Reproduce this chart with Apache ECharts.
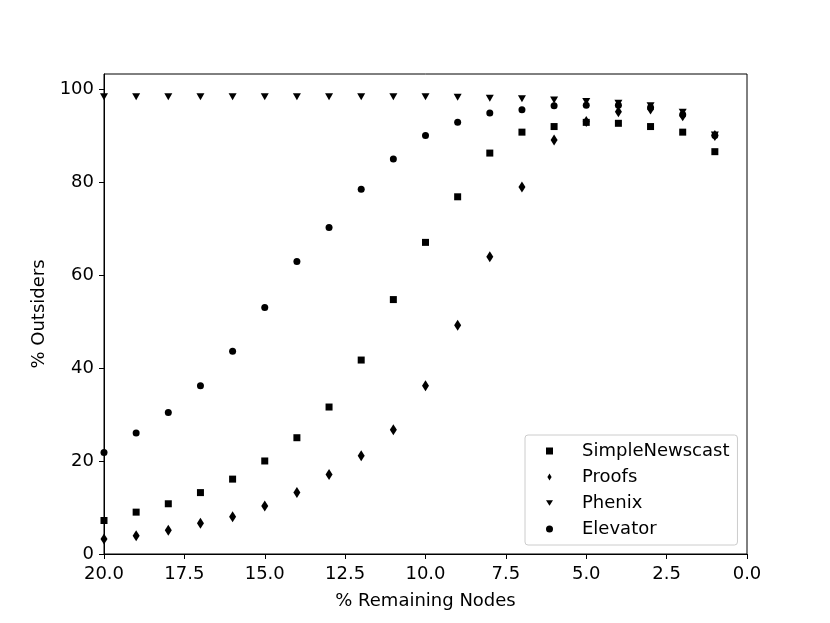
<!DOCTYPE html>
<html>
<head>
<meta charset="utf-8">
<script src="https://cdn.jsdelivr.net/npm/echarts@6/dist/echarts.min.js"></script>
<style>
  html, body { margin: 0; padding: 0; background: #fff; }
  #main { width: 830px; height: 623px; }
</style>
</head>
<body>
<div id="main"></div>
<script>
// % remaining nodes (x)
const remaining = [20, 19, 18, 17, 16, 15, 14, 13, 12, 11, 10, 9, 8, 7, 6, 5, 4, 3, 2, 1];

// % outsiders
const simpleNewscast = [7.2, 9.0, 10.8, 13.2, 16.1, 20.0, 25.0, 31.6, 41.7, 54.7, 67.0, 76.8, 86.2, 90.7, 91.9, 92.8, 92.6, 91.9, 90.7, 86.5];
const proofs = [3.2, 3.9, 5.1, 6.6, 8.0, 10.3, 13.2, 17.1, 21.1, 26.7, 36.2, 49.2, 63.9, 78.9, 89.0, 93.0, 95.1, 95.7, 94.2, 90.0];
const phenix = [98.3, 98.3, 98.3, 98.3, 98.3, 98.3, 98.3, 98.3, 98.3, 98.3, 98.3, 98.2, 98.0, 97.9, 97.6, 97.3, 96.9, 96.4, 95.0, 90.1];
const elevator = [21.8, 26.0, 30.4, 36.2, 43.6, 53.0, 62.9, 70.2, 78.4, 84.9, 90.0, 92.8, 94.8, 95.5, 96.4, 96.5, 96.5, 96.0, 94.5, 90.0];

const yTicks = [0, 20, 40, 60, 80, 100];

const font = 'DejaVu Sans';

function pairs(ys) {
  return remaining.map((x, i) => [x, ys[i]]);
}

const chart = echarts.init(document.getElementById('main'), null, { renderer: 'canvas' });

const diamondPath = 'path://M3,0L6,5L3,10L0,5Z';
const black = { color: '#000', opacity: 1 };

const option = {
  backgroundColor: '#fff',
  animation: false,
  textStyle: { fontFamily: font },
  grid: {
    left: 104, right: 83, top: 74, bottom: 69,
    show: true, borderColor: '#000', borderWidth: 1
  },
  legend: {
    orient: 'vertical',
    left: 525, top: 435,
    padding: [7, 8, 7, 21],
    itemGap: 8,
    itemWidth: 7, itemHeight: 7,
    borderColor: '#cccccc', borderWidth: 1, borderRadius: 3,
    backgroundColor: '#fff',
    textStyle: { fontFamily: font, fontSize: 18, color: '#000', lineHeight: 18, padding: [0, 0, 0, 24] },
    data: [
      { name: 'SimpleNewscast', icon: 'path://M0,0h10v10h-10z' },
      { name: 'Proofs', icon: diamondPath },
      { name: 'Phenix', icon: 'path://M0,0L10,0L5,8Z' },
      { name: 'Elevator', icon: 'circle' }
    ]
  },
  xAxis: {
    type: 'value',
    min: 0, max: 20, interval: 2.5,
    inverse: true,
    name: '% Remaining Nodes',
    nameLocation: 'middle',
    nameGap: 38,
    nameTextStyle: { fontFamily: font, fontSize: 18, color: '#000' },
    splitLine: { show: false },
    axisLine: { show: true, onZero: false, lineStyle: { color: '#000', width: 1 } },
    axisTick: { show: true, length: 5, lineStyle: { color: '#000' } },
    axisLabel: {
      margin: 11, color: '#000', fontFamily: font, fontSize: 18,
      formatter: v => v.toFixed(1)
    }
  },
  yAxis: {
    type: 'value',
    min: 0, max: 103.2,
    name: '% Outsiders',
    nameLocation: 'middle',
    nameGap: 53,
    nameTextStyle: { fontFamily: font, fontSize: 18, color: '#000' },
    splitLine: { show: false },
    axisLine: { show: true, onZero: false, lineStyle: { color: '#000', width: 1 } },
    axisTick: { show: true, length: 5, customValues: yTicks, lineStyle: { color: '#000' } },
    axisLabel: {
      margin: 10, color: '#000', fontFamily: font, fontSize: 18,
      customValues: yTicks
    }
  },
  series: [
    {
      name: 'SimpleNewscast', type: 'scatter', data: pairs(simpleNewscast),
      symbol: 'rect', symbolSize: 7, itemStyle: black
    },
    {
      name: 'Proofs', type: 'scatter', data: pairs(proofs),
      symbol: 'diamond', symbolSize: [7, 11], itemStyle: black
    },
    {
      name: 'Phenix', type: 'scatter', data: pairs(phenix),
      symbol: 'triangle', symbolRotate: 180, symbolSize: [8, 7], itemStyle: black
    },
    {
      name: 'Elevator', type: 'scatter', data: pairs(elevator),
      symbol: 'circle', symbolSize: 7, itemStyle: black
    }
  ]
};

chart.setOption(option);
</script>
</body>
</html>
